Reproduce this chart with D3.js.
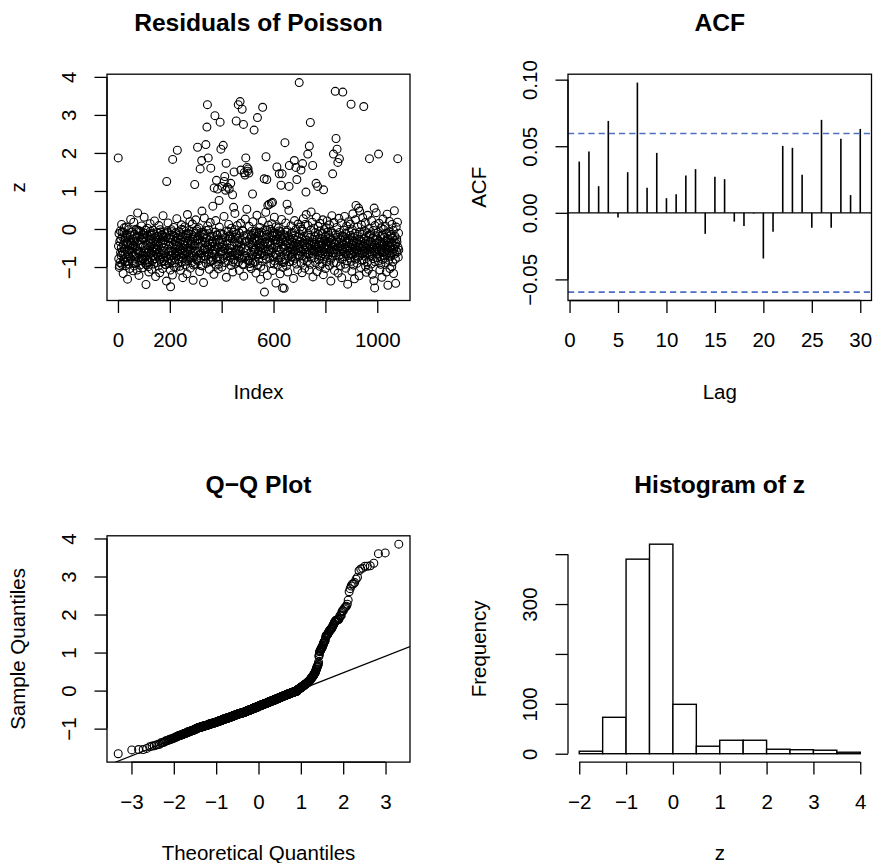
<!DOCTYPE html>
<html><head><meta charset="utf-8">
<script src="https://cdn.jsdelivr.net/npm/d3@7"></script>
<style>
body{margin:0;background:#fff}
svg{display:block}
text{font-family:"Liberation Sans",Arial,Helvetica,sans-serif;fill:#000}
</style>
</head><body>
<svg id="c" width="874" height="863"></svg>
<script>
// ---------- DATA ----------
// residuals in the main band (hundredths), in index order (pinned points are inserted between them)
const bandValues = [
-45,-78,-12,-101,-96,-33,-88,-5,-62,-27,-70,-49,12,-93,-8,-58,-21,-66,-117,-41,-81,-9,3,-53,-30,
-67,-24,-86,-96,-36,5,-74,-14,-18,-59,-132,-85,-40,-92,-2,-71,-29,-55,-104,-44,-16,-77,25,-35,-51,
-39,-61,-8,-84,-50,-26,-110,-68,-43,18,-97,-32,-91,-14,-73,-46,-64,-22,-1,-87,-54,-4,-108,-19,42,
-58,-31,-76,-4,-122,-6,-65,-20,-95,-42,-7,-60,-83,-28,8,-78,-69,-24,-15,-102,-79,-44,-25,-57,31,
-72,-11,-49,-90,-3,-63,-146,-23,-94,-81,-41,2,-88,-18,-52,-99,-36,-113,-60,-29,-86,-46,14,-6,-75,
-27,-64,-12,-106,-17,-58,-82,-38,-3,-70,-51,-92,-13,-47,21,-61,-33,-78,-125,-24,-54,-40,-88,-9,-66,
-53,-19,-71,-35,-97,-45,9,-62,-26,-115,-80,-2,-74,-8,-68,-31,-87,-17,-14,-59,-104,-37,35,-73,-22,
-48,-85,-30,-63,-12,-93,-39,-94,-21,-74,-137,-9,-5,-84,-52,16,-34,-79,-60,-25,-91,-43,-69,-16,-108,
-26,-70,-2,-58,-7,-83,-121,-28,-62,-41,4,-76,-99,-19,-89,-33,-65,-50,-10,-101,-44,-72,27,-24,-57,
-61,-23,-80,-45,-7,-67,-38,-98,-52,-15,-109,-73,-30,-56,11,-1,-86,-64,-20,-128,-49,-77,-35,-3,-59,
-42,-68,6,-31,-94,-85,-17,-79,-13,-25,-118,-60,38,-37,-83,-12,-51,-66,-4,-73,-29,19,-56,-103,-39,
-75,-33,-50,-14,-88,-41,13,-62,-27,-135,-95,-6,-71,-45,-21,-92,-38,-58,24,-11,-81,-5,-30,-77,-1,
-26,-59,-84,-28,3,-69,-18,-112,-47,-35,-76,-96,-9,-63,47,-32,-97,-9,-23,-57,-141,-70,-15,29,-50,
-54,-13,-72,-36,-90,-4,-24,-61,8,-43,-80,-2,-66,-106,-29,-52,-39,17,-86,-83,-19,-74,-46,-33,-64,
-37,-82,-58,-20,-119,-45,-67,-8,-53,22,-30,-95,-15,-79,-16,-73,-49,-105,-27,-93,5,-38,-78,-11,-60,
-66,-28,-48,-100,-35,-59,-14,-77,-43,33,-52,-88,-22,-64,-127,-40,-5,-71,-31,-55,-84,-7,12,-18,-62,
-51,-19,-74,-23,-96,-60,2,-44,-69,-26,-113,-87,-8,-81,-34,-2,41,-63,-21,-90,-57,-13,-37,-68,9,
-43,-65,-25,-86,-53,-10,-109,-70,-36,-58,15,-47,-79,-30,-76,-3,-92,-6,-94,-124,-18,-73,-49,26,-33,
-71,-32,-57,-15,-83,-45,-82,7,-28,-99,-91,-39,-76,-21,-60,-104,-16,-6,-67,-35,-89,19,-50,-12,-55,
-24,-61,-27,-87,-5,-54,-116,-33,-72,-9,36,-20,-65,-94,-42,-58,-11,-78,-29,-50,4,-68,-37,-132,-98,
-46,-8,-63,-30,-85,21,-52,-17,-41,-105,-70,-35,-2,-58,-26,44,-79,-3,-14,-122,-37,-66,10,-54,-22,
-59,-34,-77,-1,-43,-91,-23,-62,14,-50,-18,-109,-16,-73,-11,-28,-92,31,-84,-10,-40,-67,-31,-142,6,
-27,-69,-48,-12,-95,-36,-55,3,-82,-5,-20,-60,-118,-33,-7,-75,-51,25,-25,-86,-101,-29,-48,-88,-15,
-53,-21,-80,-42,16,-64,-31,-97,-8,-4,-58,-113,-36,-71,-18,49,-49,-86,-27,-61,-39,8,-74,-11,-73,
-35,-66,-9,-50,-84,-25,-130,-43,-60,22,-17,-77,-38,-54,-1,-92,-45,-29,-68,-107,-41,13,-57,-21,-72,
-48,-13,-70,-33,5,-59,-90,-24,-1,-115,-6,-71,-37,27,-52,-80,-19,-41,-103,-56,12,-29,-74,38,-46,
-62,-30,-85,-47,9,-16,-68,-39,-108,-55,-22,-93,-43,-3,45,-77,-51,-34,18,-64,-126,-27,-58,2,-41,
-36,-75,-20,-53,-9,-88,-44,31,-60,-28,-112,-49,-67,7,-14,-81,-40,-57,-24,-98,15,-35,-71,-5,-52,
-58,-26,-43,-91,-12,-65,24,-38,-120,-50,-79,-2,-46,-31,-61,-104,-19,-72,3,-54,-41,-86,21,-33,-8,
-45,-69,-17,-52,-34,-96,11,-60,-23,-82,-40,-137,-6,-56,-29,35,-74,-48,-11,-63,-89,17,-37,-109,-53,
-40,-63,-15,-88,-31,4,-55,-22,-116,-47,-71,28,-36,-9,-59,-44,-97,-26,-67,16,-51,-128,-18,-80,-34,
-57,-20,-73,-42,-3,-61,33,-28,-92,-49,-12,-103,-66,-37,8,-53,-84,-25,-145,-45,-70,19,-33,-6,-58,
-29,-76,-48,13,-64,-17,-85,-39,-111,-54,-2,-68,40,-43,-23,-95,-60,-32,-131,-52,-11,-79,24,-46,-38,
-62,-35,-90,-19,6,-56,-44,-74,-27,-123,-50,47,-8,-69,-40,-101,-31,-58,11,-82,-14,-65,-47,30,-53,
-44,-81,-26,-59,-5,-72,-37,17,-98,-51,-21,-114,-63,-41,-10,-87,36,-55,-30,-106,-47,-67,1,-16,-60,
-33,-70,-13,-53,-92,22,-39,-64,-119,-48,-24,-78,-4,-57,-136,-42,9,-86,-29,-61,-18,43,-50,-36,-75,
-52,-27,-66,-9,-84,-41,15,-58,-32,-108,-73,-46,-20,-93,3,-55,-38,-127,-62,-15,-80,26,-44,-1,-69,
-37,-60,-22,-77,-47,7,-89,-31,-54,-113,-12,-68,39,-43,-25,-148,-57,-35,-82,-7,-64,20,-49,-104,-18,
-46,-72,-14,-56,-35,-99,12,-63,-24,-87,-41,-4,-117,-53,-30,48,-66,-19,-45,-79,-143,-38,5,-58,-26,
-34,-61,18,-48,-74,-11,-55
];
// individually readable points (index, value)
const pinnedIdx = [1,188,203,211,229,296,307,317,323,339,343,345,348,358,366,371,374,380,384,390,394,397,402,406,410,412,415,417,422,429,435,442,446,448,456,464,471,474,479,484,487,490,493,497,498,500,502,505,519,525,538,558,564,565,571,574,578,583,592,596,613,622,629,633,635,641,644,652,660,661,680,686,690,699,706,712,725,732,738,742,751,764,770,793,828,831,838,841,845,848,854,867,899,918,928,948,970,988,990,1005,1079];
const pinnedVal = [1.87,1.25,-1.52,1.83,2.07,1.17,2.15,1.58,1.80,2.22,2.68,3.27,1.87,1.60,0.60,1.08,2.98,1.28,1.05,0.75,2.81,2.10,1.12,2.20,1.25,1.38,1.02,1.73,1.10,1.05,1.20,0.90,0.57,1.50,2.84,3.27,3.35,1.55,3.15,2.75,1.48,1.42,1.87,0.52,1.62,1.52,1.58,1.47,0.92,2.60,2.93,3.20,1.32,-1.66,1.90,1.30,0.62,0.65,0.68,0.70,1.63,1.45,1.15,1.45,-1.55,-1.56,2.27,0.65,1.12,1.67,1.80,1.62,1.30,3.85,1.55,1.72,0.97,1.97,2.18,2.80,1.67,1.20,1.12,1.03,1.45,1.97,3.62,2.38,2.10,1.75,1.85,3.60,3.28,0.62,0.55,3.22,1.85,0.55,-1.55,1.97,1.85];

const acfLags = [1,2,3,4,5,6,7,8,9,10,11,12,13,14,15,16,17,18,19,20,21,22,23,24,25,26,27,28,29,30];
const acfValues = [0.0385,0.046,0.020,0.069,-0.0035,0.0305,0.0978,0.0188,0.045,0.011,0.014,0.028,0.0328,-0.0158,0.027,0.0253,-0.0066,-0.0099,-0.0005,-0.0343,-0.0143,0.0502,0.0488,0.0285,-0.0112,0.0698,-0.0112,0.0556,0.0133,0.063];

const histBreaks = [-2,-1.5,-1,-0.5,0,0.5,1,1.5,2,2.5,3,3.5,4];

const idxTicks = [0,200,400,600,800,1000];
const idxTickLabels = ["0","200","","600","","1000"];
const zTicks = [-1,0,1,2,3,4];
const zTickLabels = ["\u22121","0","1","2","3","4"];
const lagTicks = [0,5,10,15,20,25,30];
const lagTickLabels = ["0","5","10","15","20","25","30"];
const acfTicks = [-0.05,0,0.05,0.10];
const acfTickLabels = ["\u22120.05","0.00","0.05","0.10"];
const theoTicks = [-3,-2,-1,0,1,2,3];
const theoTickLabels = ["\u22123","\u22122","\u22121","0","1","2","3"];
const histXTicks = [-2,-1,0,1,2,3,4];
const histXTickLabels = ["\u22122","\u22121","0","1","2","3","4"];
const freqTicks = [0,100,200,300,400];
const freqTickLabels = ["0","100","","300",""];

// ---------- BUILD SERIES ----------
const pinMap = new Map(pinnedIdx.map((d,i)=>[d,pinnedVal[i]]));
const n = bandValues.length + pinnedIdx.length;
let bi = 0;
const z = [];
for (let i = 1; i <= n; i++) z.push(pinMap.has(i) ? pinMap.get(i) : bandValues[bi++]/100);

function qnorm(p){
  const a=[-3.969683028665376e+01,2.209460984245205e+02,-2.759285104469687e+02,1.383577518672690e+02,-3.066479806614716e+01,2.506628277459239e+00];
  const b=[-5.447609879822406e+01,1.615858368580409e+02,-1.556989798598866e+02,6.680131188771972e+01,-1.328068155288572e+01];
  const c=[-7.784894002430293e-03,-3.223964580411365e-01,-2.400758277161838e+00,-2.549732539343734e+00,4.374664141464968e+00,2.938163982698783e+00];
  const d=[7.784695709041462e-03,3.224671290700398e-01,2.445134137142996e+00,3.754408661907416e+00];
  const pl=0.02425, ph=1-pl; let q,r;
  if(p<pl){q=Math.sqrt(-2*Math.log(p));return (((((c[0]*q+c[1])*q+c[2])*q+c[3])*q+c[4])*q+c[5])/((((d[0]*q+d[1])*q+d[2])*q+d[3])*q+1);}
  if(p<=ph){q=p-0.5;r=q*q;return (((((a[0]*r+a[1])*r+a[2])*r+a[3])*r+a[4])*r+a[5])*q/(((((b[0]*r+b[1])*r+b[2])*r+b[3])*r+b[4])*r+1);}
  q=Math.sqrt(-2*Math.log(1-p));return -(((((c[0]*q+c[1])*q+c[2])*q+c[3])*q+c[4])*q+c[5])/((((d[0]*q+d[1])*q+d[2])*q+d[3])*q+1);
}
const pad = ([lo,hi]) => { const e=(hi-lo)*0.04; return [lo-e, hi+e]; };

// ---------- LAYOUT ----------
const svg = d3.select("#c");
const COL = [{x0:107,x1:410},{x0:568,x1:871.5}];
const ROW = [{y0:74.2,y1:300.5},{y0:535.8,y1:762.1}];
const FS = 20.5, TFS = 24.6, TICK = 12.5;

function frame(c,r){ return {x0:COL[c].x0,x1:COL[c].x1,y0:ROW[r].y0,y1:ROW[r].y1}; }

function xAxis(p, scale, ticks, labels, y){
  const g = svg.append("g").attr("transform",`translate(0,${y})`)
    .call(d3.axisBottom(scale).tickValues(ticks).tickSize(TICK).tickSizeOuter(0).tickFormat((v,i)=>labels[i]));
  g.select(".domain").remove();
  g.attr("font-size",null).attr("font-family",null);
  g.append("line").attr("x1",scale(ticks[0])).attr("x2",scale(ticks[ticks.length-1]))
    .attr("y1",0).attr("y2",0).attr("stroke","#000").attr("stroke-width",1.3);
  g.selectAll(".tick line").attr("stroke","#000").attr("stroke-width",1.3);
  g.selectAll(".tick text").attr("y",46.5).attr("dy",null).attr("font-size",FS).attr("fill","#000");
}
function yAxis(p, scale, ticks, labels, x){
  const g = svg.append("g").attr("transform",`translate(${x},0)`)
    .call(d3.axisLeft(scale).tickValues(ticks).tickSize(TICK).tickSizeOuter(0).tickFormat((v,i)=>labels[i]));
  g.select(".domain").remove();
  g.attr("font-size",null).attr("font-family",null);
  g.append("line").attr("y1",scale(ticks[0])).attr("y2",scale(ticks[ticks.length-1]))
    .attr("x1",0).attr("x2",0).attr("stroke","#000").attr("stroke-width",1.3);
  g.selectAll(".tick line").attr("stroke","#000").attr("stroke-width",1.3);
  g.selectAll(".tick text").attr("x",null).attr("dy",null).attr("text-anchor","middle")
    .attr("transform","translate(-31.5,0) rotate(-90)").attr("font-size",FS).attr("fill","#000");
}
function labels(p, title, xlab, ylab){
  const cx=(p.x0+p.x1)/2, cy=(p.y0+p.y1)/2;
  svg.append("text").attr("x",cx).attr("y",p.y0-43.2).attr("text-anchor","middle")
    .attr("font-size",TFS).attr("font-weight","bold").text(title);
  svg.append("text").attr("x",cx).attr("y",p.y1+98.3).attr("text-anchor","middle")
    .attr("font-size",FS).text(xlab);
  svg.append("text").attr("transform",`translate(${p.x0-82},${cy}) rotate(-90)`).attr("text-anchor","middle")
    .attr("font-size",FS).text(ylab);
}
function box(p){
  svg.append("rect").attr("x",p.x0).attr("y",p.y0).attr("width",p.x1-p.x0).attr("height",p.y1-p.y0)
    .attr("fill","none").attr("stroke","#000").attr("stroke-width",1.3);
}
function clip(p,id){
  svg.append("clipPath").attr("id",id).append("rect").attr("x",p.x0).attr("y",p.y0)
    .attr("width",p.x1-p.x0).attr("height",p.y1-p.y0);
}

// ---------- PANEL 1: residuals vs index ----------
{
  const p = frame(0,0);
  const x = d3.scaleLinear().domain(pad([1,n])).range([p.x0,p.x1]);
  const y = d3.scaleLinear().domain(pad(d3.extent(z))).range([p.y1,p.y0]);
  svg.append("g").selectAll("circle").data(z).join("circle")
    .attr("cx",(d,i)=>x(i+1)).attr("cy",d=>y(d)).attr("r",3.95)
    .attr("fill","none").attr("stroke","#000").attr("stroke-width",1.1);
  box(p);
  xAxis(p,x,idxTicks,idxTickLabels,p.y1);
  yAxis(p,y,zTicks,zTickLabels,p.x0);
  labels(p,"Residuals of Poisson","Index","z");
}

// ---------- PANEL 2: ACF ----------
{
  const p = frame(1,0);
  const ci = 1.96/Math.sqrt(n);
  const x = d3.scaleLinear().domain(pad(d3.extent(acfLags))).range([p.x0,p.x1]);
  const y = d3.scaleLinear().domain(pad(d3.extent(acfValues.concat([ci,-ci])))).range([p.y1,p.y0]);
  svg.append("g").selectAll("line").data(acfValues).join("line")
    .attr("x1",(d,i)=>x(acfLags[i])).attr("x2",(d,i)=>x(acfLags[i]))
    .attr("y1",y(0)).attr("y2",d=>y(d)).attr("stroke","#000").attr("stroke-width",1.6);
  svg.append("line").attr("x1",p.x0).attr("x2",p.x1).attr("y1",y(0)).attr("y2",y(0))
    .attr("stroke","#000").attr("stroke-width",1.3);
  [ci,-ci].forEach(v=>{
    svg.append("line").attr("x1",p.x0).attr("x2",p.x1).attr("y1",y(v)).attr("y2",y(v))
      .attr("stroke","#4f6fc4").attr("stroke-width",1.6).attr("stroke-dasharray","6.2,4");
  });
  box(p);
  xAxis(p,x,lagTicks,lagTickLabels,p.y1);
  yAxis(p,y,acfTicks,acfTickLabels,p.x0);
  labels(p,"ACF","Lag","ACF");
}

// ---------- PANEL 3: Q-Q plot ----------
{
  const p = frame(0,1);
  const sorted = z.slice().sort(d3.ascending);
  const theo = sorted.map((d,i)=>qnorm((i+0.5)/n));
  const x = d3.scaleLinear().domain(pad(d3.extent(theo))).range([p.x0,p.x1]);
  const y = d3.scaleLinear().domain(pad(d3.extent(sorted))).range([p.y1,p.y0]);
  svg.append("g").selectAll("circle").data(sorted).join("circle")
    .attr("cx",(d,i)=>x(theo[i])).attr("cy",d=>y(d)).attr("r",3.95)
    .attr("fill","none").attr("stroke","#000").attr("stroke-width",1.1);
  const q1 = d3.quantile(sorted,0.25), q3 = d3.quantile(sorted,0.75);
  const t1 = qnorm(0.25), t3 = qnorm(0.75);
  const slope = (q3-q1)/(t3-t1), icpt = q1 - slope*t1;
  clip(p,"qqclip");
  const [xa,xb] = x.domain();
  svg.append("line").attr("clip-path","url(#qqclip)")
    .attr("x1",x(xa)).attr("y1",y(icpt+slope*xa)).attr("x2",x(xb)).attr("y2",y(icpt+slope*xb))
    .attr("stroke","#000").attr("stroke-width",1.2);
  box(p);
  xAxis(p,x,theoTicks,theoTickLabels,p.y1);
  yAxis(p,y,zTicks,zTickLabels,p.x0);
  labels(p,"Q\u2212Q Plot","Theoretical Quantiles","Sample Quantiles");
}

// ---------- PANEL 4: histogram ----------
{
  const p = frame(1,1);
  const counts = histBreaks.slice(0,-1).map((a,i)=>{
    const b = histBreaks[i+1];
    return z.filter(v => (i===0 ? v>=a : v>a) && v<=b).length;
  });
  const x = d3.scaleLinear().domain(pad(d3.extent(histBreaks))).range([p.x0,p.x1]);
  const y = d3.scaleLinear().domain(pad([0,d3.max(counts)])).range([p.y1,p.y0]);
  svg.append("g").selectAll("rect").data(counts).join("rect")
    .attr("x",(d,i)=>x(histBreaks[i])).attr("width",(d,i)=>x(histBreaks[i+1])-x(histBreaks[i]))
    .attr("y",d=>y(d)).attr("height",d=>y(0)-y(d))
    .attr("fill","#fff").attr("stroke","#000").attr("stroke-width",1.4);
  xAxis(p,x,histXTicks,histXTickLabels,p.y1);
  yAxis(p,y,freqTicks,freqTickLabels,p.x0);
  labels(p,"Histogram of z","z","Frequency");
}
</script>
</body></html>
